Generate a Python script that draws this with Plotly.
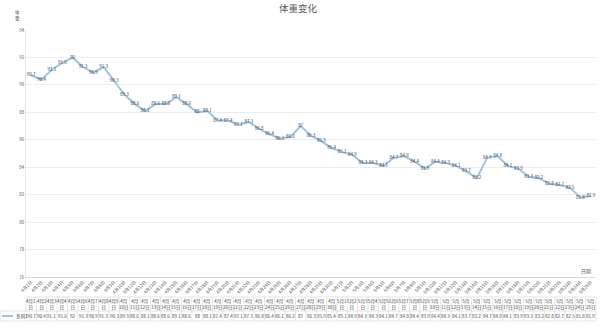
import plotly.graph_objects as go

april_days = list(range(1, 31))
may_days = list(range(1, 26))
dates = [f"4月{d}日" for d in april_days] + [f"5月{d}日" for d in may_days]
weights = [90.7, 90.4, 91.1, 91.6, 92, 91.3, 90.9, 91.3, 90.3, 89.3,
           88.6, 88.1, 88.6, 88.6, 89.1, 88.6, 88, 88.1, 87.4, 87.4,
           87.1, 87.3, 86.8, 86.4, 86.1, 86.2, 87, 86.3, 85.9, 85.4,
           85.1, 84.9, 84.3, 84.3, 84.1, 84.7, 84.8, 84.4, 83.9, 84.4,
           84.3, 84.1, 83.7, 83.2, 84.7, 84.8, 84.1, 83.9, 83.3, 83.2,
           82.8, 82.7, 82.5, 81.8, 81.9]
series_name = "系列1"
title = "体重变化"
y_title = "体<br>重"
x_title = "日期"

FONT = "Noto Sans CJK SC"
LINE_COLOR = "#9DC3E6"
TXT = "#404040"
GRID = "#EDEDED"

W, H = 600, 327
ML, MR, MT, MB = 26, 4, 30, 50
ph = H - MT - MB
pw = W - ML - MR

def py(pix):
    return (H - MB - pix) / ph

def px(pix):
    return (pix - ML) / pw

n = len(dates)

fig = go.Figure()
fig.add_trace(go.Scatter(
    x=dates, y=weights, mode="lines+text", name=series_name,
    line=dict(color=LINE_COLOR, width=2),
    text=[f"{v:g}" for v in weights], textposition="middle center",
    textfont=dict(size=4.5, color=TXT, family=FONT),
    cliponaxis=False, showlegend=False,
))

shapes = []
annotations = []
y_top, y_mid, y_bot = py(297), py(311), py(321)
LC = dict(color="#D9D9D9", width=0.7)
shapes.append(dict(type="line", xref="paper", yref="paper", x0=0, x1=1, y0=y_top, y1=y_top, line=LC))
shapes.append(dict(type="line", xref="paper", yref="paper", x0=px(0), x1=1, y0=y_mid, y1=y_mid, line=LC))
shapes.append(dict(type="line", xref="paper", yref="paper", x0=px(0), x1=1, y0=y_bot, y1=y_bot, line=LC))
for i in range(n + 1):
    xp = i / n
    shapes.append(dict(type="line", xref="paper", yref="paper", x0=xp, x1=xp, y0=y_top, y1=y_bot, line=LC))
shapes.append(dict(type="line", xref="paper", yref="paper", x0=px(0), x1=px(0), y0=y_mid, y1=y_bot, line=LC))
shapes.append(dict(type="line", xref="paper", yref="paper", x0=px(2), x1=px(13),
                   y0=py(316), y1=py(316), line=dict(color=LINE_COLOR, width=2)))
annotations.append(dict(xref="paper", yref="paper", x=px(14), y=py(316), text=series_name,
                        showarrow=False, xanchor="left", yanchor="middle",
                        font=dict(size=4.5, color=TXT, family=FONT)))

for d, v in zip(dates, weights):
    m, rest = d.split("月")
    day = rest.replace("日", "")
    if len(day) == 1:
        head = f"{m}月{day}<br>日"
    else:
        head = f"{m}月<br>{day}日"
    annotations.append(dict(xref="x", yref="paper", x=d, y=py(304), text=head, showarrow=False,
                            xanchor="center", yanchor="middle",
                            font=dict(size=4.5, color=TXT, family=FONT)))
    annotations.append(dict(xref="x", yref="paper", x=d, y=py(316), text=f"{v:g}", showarrow=False,
                            xanchor="center", yanchor="middle",
                            font=dict(size=4.5, color=TXT, family=FONT)))

annotations.append(dict(xref="paper", yref="paper", x=px(298), y=py(8), text=title, showarrow=False,
                        xanchor="center", yanchor="middle",
                        font=dict(size=9.5, color="#595959", family=FONT)))
annotations.append(dict(xref="paper", yref="paper", x=px(17), y=py(15), text=y_title, showarrow=False,
                        xanchor="center", yanchor="middle",
                        font=dict(size=4.5, color="#595959", family=FONT)))
annotations.append(dict(xref="paper", yref="paper", x=px(586), y=py(271), text=x_title, showarrow=False,
                        xanchor="center", yanchor="middle",
                        font=dict(size=5, color="#595959", family=FONT)))

fig.update_layout(
    width=W, height=H,
    margin=dict(l=ML, r=MR, t=MT, b=MB, autoexpand=False),
    paper_bgcolor="white", plot_bgcolor="white",
    font=dict(family=FONT, color=TXT),
    shapes=shapes, annotations=annotations,
    xaxis=dict(type="category", range=[-0.5, n - 0.5], tickangle=-45,
               tickfont=dict(size=4.5, color="#595959", family=FONT),
               showgrid=False, showline=True, linecolor="#D9D9D9", linewidth=0.7,
               ticks="", automargin=False),
    yaxis=dict(range=[76, 94], dtick=2, tickfont=dict(size=4.5, color="#595959", family=FONT),
               showgrid=True, gridcolor=GRID, gridwidth=0.7, zeroline=False,
               showline=True, linecolor="#E6E6E6", linewidth=0.7, ticks="", automargin=False),
)

fig.write_html("out.html")
